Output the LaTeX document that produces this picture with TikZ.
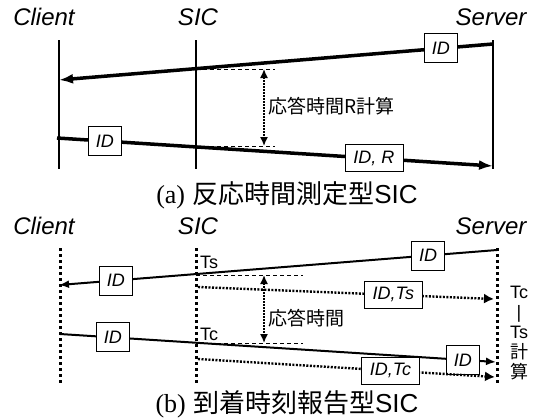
\documentclass[tikz,border=0pt]{standalone}
\usepackage{fontspec}
\setmainfont{Liberation Sans}
\newfontfamily\jpfont{Noto Sans CJK JP}
\newfontfamily\romanfont{Liberation Serif}
\usetikzlibrary{arrows.meta, positioning, calc}

\begin{document}
\begin{tikzpicture}[x=1pt, y=-1pt,
  actor/.style={font=\fontsize{24}{24}\selectfont\itshape, inner sep=0pt},
  lifeA/.style={line width=1.2pt},
  lifeB/.style={line width=3pt, dash pattern=on 3pt off 3pt},
  msgA/.style={line width=3.5pt, -{Latex[length=14pt,width=10pt]}},
  msgB/.style={line width=2pt, -{Latex[length=10pt,width=8pt]}},
  report/.style={line width=2.4pt, dash pattern=on 2pt off 1.5pt, -{Latex[length=10pt,width=10pt]}},
  idbox/.style={draw, solid, fill=white, line width=0.8pt, minimum width=33pt, minimum height=29pt,
    inner sep=2pt, font=\fontsize{18}{18}\selectfont\itshape},
  wide/.style={idbox, minimum width=58pt, minimum height=27pt},
  level/.style={line width=0.8pt, dash pattern=on 4pt off 3pt},
  span/.style={line width=1.5pt, dash pattern=on 1.5pt off 1.5pt,
    {Latex[length=9pt,width=8pt]}-{Latex[length=9pt,width=8pt]}},
  note/.style={font=\fontsize{19}{19}\selectfont\jpfont, anchor=west, inner sep=0pt},
  stamp/.style={font=\fontsize{18}{18}\selectfont, anchor=west, inner sep=0pt},
  caption/.style={font=\fontsize{26}{26}\selectfont, inner sep=0pt}
]
  \useasboundingbox (0,0) rectangle (533,418);

  % (a) response time measuring SIC
  \node[actor] (clientA) at (44,17) {Client};
  \node[actor] (sicA) at (198,17) {SIC};
  \node[actor] (serverA) at (491,17) {Server};
  \coordinate (cliAtop) at (59,40);  \coordinate (cliAbot) at (59,169);
  \coordinate (sicAtop) at (196,40); \coordinate (sicAbot) at (196,169);
  \coordinate (srvAtop) at (493,40); \coordinate (srvAbot) at (493,169);
  \draw[lifeA] (cliAtop) -- (cliAbot);
  \draw[lifeA] (sicAtop) -- (sicAbot);
  \draw[lifeA] (srvAtop) -- (srvAbot);

  \coordinate (respA) at (493,44);   \coordinate (respAend) at (59,80);
  \coordinate (reqA) at (57,138);    \coordinate (reqAend) at (493,166);
  \draw[msgA] (respA) -- node[idbox, pos=0.12] (idA1) {ID} (respAend);
  \draw[msgA] (reqA) -- node[idbox, pos=0.11] (idA2) {ID}
    node[wide, pos=0.727] (idrA) {ID, R} (reqAend);

  \coordinate (upA) at (196,69);   \coordinate (upAend) at (275,69);
  \coordinate (dnA) at (196,146);  \coordinate (dnAend) at (275,146);
  \draw[level] (upA) -- (upAend);
  \draw[level] (dnA) -- (dnAend);
  \coordinate (spanAtop) at (264,69); \coordinate (spanAbot) at (264,146);
  \draw[span] (spanAtop) -- (spanAbot);
  \node[note] (calcA) at (268,106) {応答時間R計算};

  \node[caption] (capA) at (287,195) {{\romanfont (a)} {\jpfont 反応時間測定型}SIC};

  % (b) arrival time reporting SIC
  \node[actor] (clientB) at (44,226) {Client};
  \node[actor] (sicB) at (198,226) {SIC};
  \node[actor] (serverB) at (491,226) {Server};
  \coordinate (cliBtop) at (60,248);  \coordinate (cliBbot) at (60,384);
  \coordinate (sicBtop) at (196,248); \coordinate (sicBbot) at (196,384);
  \coordinate (srvBtop) at (497,248); \coordinate (srvBbot) at (497,384);
  \draw[lifeB] (cliBtop) -- (cliBbot);
  \draw[lifeB] (sicBtop) -- (sicBbot);
  \draw[lifeB] (srvBtop) -- (srvBbot);

  \coordinate (respB) at (497,250);  \coordinate (respBend) at (59,285);
  \coordinate (reqB) at (60,334);    \coordinate (reqBend) at (496,362);
  \draw[msgB] (respB) -- node[idbox, pos=0.157] (idB1) {ID}
    node[idbox, pos=0.87] (idB2) {ID} (respBend);
  \draw[msgB] (reqB) -- node[idbox, pos=0.121] (idB3) {ID}
    node[idbox, pos=0.924] (idB4) {ID} (reqBend);

  \coordinate (tsB) at (198,287);  \coordinate (tsBend) at (494,299);
  \coordinate (tcB) at (198,359);  \coordinate (tcBend) at (495,377);
  \draw[report] (tsB) -- node[wide, pos=0.66] (idtsB) {ID,Ts} (tsBend);
  \draw[report] (tcB) -- node[wide, pos=0.648] (idtcB) {ID,Tc} (tcBend);

  \node[stamp] (tsLabel) at (200,262) {Ts};
  \node[stamp] (tcLabel) at (200,334) {Tc};
  \coordinate (upB) at (196,275);  \coordinate (upBend) at (303,275);
  \coordinate (dnB) at (196,343);  \coordinate (dnBend) at (303,343);
  \draw[level] (upB) -- (upBend);
  \draw[level] (dnB) -- (dnBend);
  \coordinate (spanBtop) at (264,275); \coordinate (spanBbot) at (264,343);
  \draw[span] (spanBtop) -- (spanBbot);
  \node[note] (respTime) at (268,318) {応答時間};

  \node[font=\fontsize{18}{20}\selectfont, align=center, inner sep=0pt] (diffB) at (519,333)
    {Tc\\|\\Ts\\{\jpfont 計}\\{\jpfont 算}};

  \node[caption] (capB) at (287,404) {{\romanfont (b)} {\jpfont 到着時刻報告型}SIC};
\end{tikzpicture}
\end{document}
